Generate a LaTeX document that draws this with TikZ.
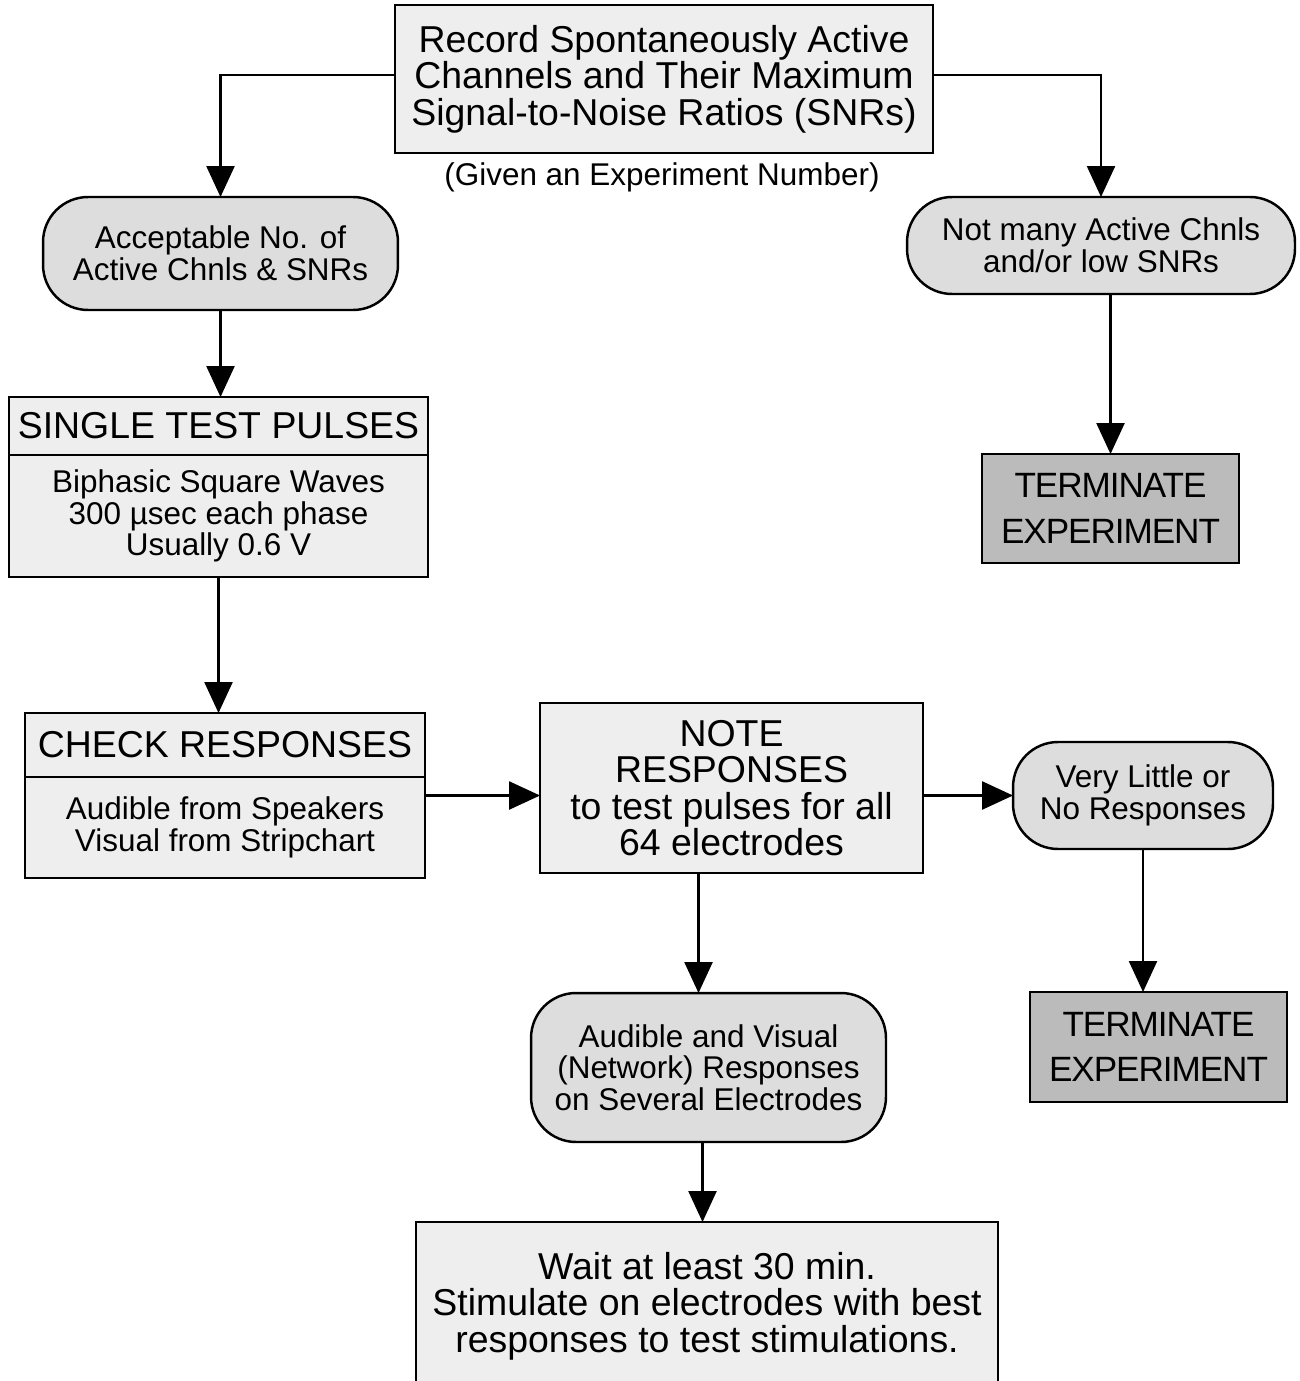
\documentclass[tikz,border=0pt]{standalone}
\usepackage{fontspec}
\setmainfont{Liberation Sans}
\newfontfamily\stopfont[LetterSpace=-3]{Liberation Sans}
\usetikzlibrary{arrows.meta, positioning}
\definecolor{boxfill}{HTML}{EEEEEE}
\definecolor{roundfill}{HTML}{DDDDDD}
\definecolor{stopfill}{HTML}{BBBBBB}
\tikzset{
  every picture/.style={line width=1.4pt},
  box/.style={draw, fill=boxfill, align=center, inner sep=0pt, outer sep=0pt, font=\fontsize{21.3}{20.8}\selectfont},
  rbox/.style={draw, fill=roundfill, rounded corners=0.9cm, align=center, inner sep=0pt, outer sep=0pt, font=\fontsize{17.9}{18}\selectfont},
  stopbox/.style={draw, fill=stopfill, align=center, inner sep=0pt, outer sep=0pt, font=\stopfont\fontsize{20}{26}\selectfont},
  bodytxt/.style={font=\fontsize{17.9}{18}\selectfont},
  arrow/.style={-{Triangle[length=0.62cm, width=0.56cm]}},
}
\begin{document}
\begin{tikzpicture}[x=0.02cm, y=-0.02cm]
  \useasboundingbox (0,0) rectangle (1299,1381);
  % top
  \node[box, minimum width=10.76cm, minimum height=2.96cm] (record) at (664,79)
    {Record Spontaneously Active\\Channels and Their Maximum\\Signal-to-Noise Ratios (SNRs)};
  \node[bodytxt] (given) at (662,177) {(Given an Experiment Number)};
  \node[rbox, minimum width=7.1cm, minimum height=2.26cm] (accept) at (220.5,253.5)
    {Acceptable No. of\\Active Chnls \& SNRs};
  \node[rbox, minimum width=7.76cm, minimum height=1.94cm] (notmany) at (1101,245.5)
    {Not many Active Chnls\\and/or low SNRs};
  \node[stopbox, minimum width=5.14cm, minimum height=2.18cm] (term1) at (1110.5,508.5)
    {TERMINATE\\EXPERIMENT};
  % left column
  \node[box, minimum width=8.38cm, minimum height=1.16cm] (singleT) at (218.5,426) {SINGLE TEST PULSES};
  \node[box, bodytxt, minimum width=8.38cm, minimum height=2.44cm, below=0pt of singleT] (singleB)
    {Biphasic Square Waves\\300 µsec each phase\\Usually 0.6 V};
  \node[box, minimum width=8cm, minimum height=1.28cm] (checkT) at (225,745) {CHECK RESPONSES};
  \node[box, bodytxt, minimum width=8cm, minimum height=2.02cm, below=0pt of checkT] (checkB)
    {Audible from Speakers\\Visual from Stripchart};
  % middle and right
  \node[box, minimum width=7.66cm, minimum height=3.4cm] (note) at (731.5,788)
    {NOTE\\RESPONSES\\to test pulses for all\\64 electrodes};
  \node[rbox, minimum width=5.2cm, minimum height=2.14cm] (little) at (1143,795.5)
    {Very Little or\\No Responses};
  \node[stopbox, minimum width=5.14cm, minimum height=2.2cm] (term2) at (1158.5,1047)
    {TERMINATE\\EXPERIMENT};
  \node[rbox, minimum width=7.1cm, minimum height=2.98cm] (audible) at (708.5,1067.5)
    {Audible and Visual\\(Network) Responses\\on Several Electrodes};
  \node[box, minimum width=11.64cm, minimum height=3.36cm] (wait) at (707,1306)
    {Wait at least 30 min.\\Stimulate on electrodes with best\\responses to test stimulations.};
  % connectors
  \draw[arrow] ([yshift=0.08cm]record.west) -| (accept.north);
  \draw[arrow] ([yshift=0.08cm]record.east) -| (notmany.north);
  \draw[arrow] (accept.south) -- (accept.south |- singleT.north);
  \draw[arrow] (term1.north |- notmany.south) -- (term1.north);
  \draw[arrow] (singleB.south) -- (singleB.south |- checkT.north);
  \draw[arrow] (checkB.east |- little.west) -- (note.west |- little.west);
  \draw[arrow] (note.east |- little.west) -- (little.west);
  \draw[arrow] (little.south) -- (little.south |- term2.north);
  \draw[arrow] ([xshift=-0.2cm]audible.north |- note.south) -- ([xshift=-0.2cm]audible.north);
  \draw[arrow] ([xshift=-0.12cm]audible.south) -- ([xshift=-0.12cm]audible.south |- wait.north);
\end{tikzpicture}
\end{document}
